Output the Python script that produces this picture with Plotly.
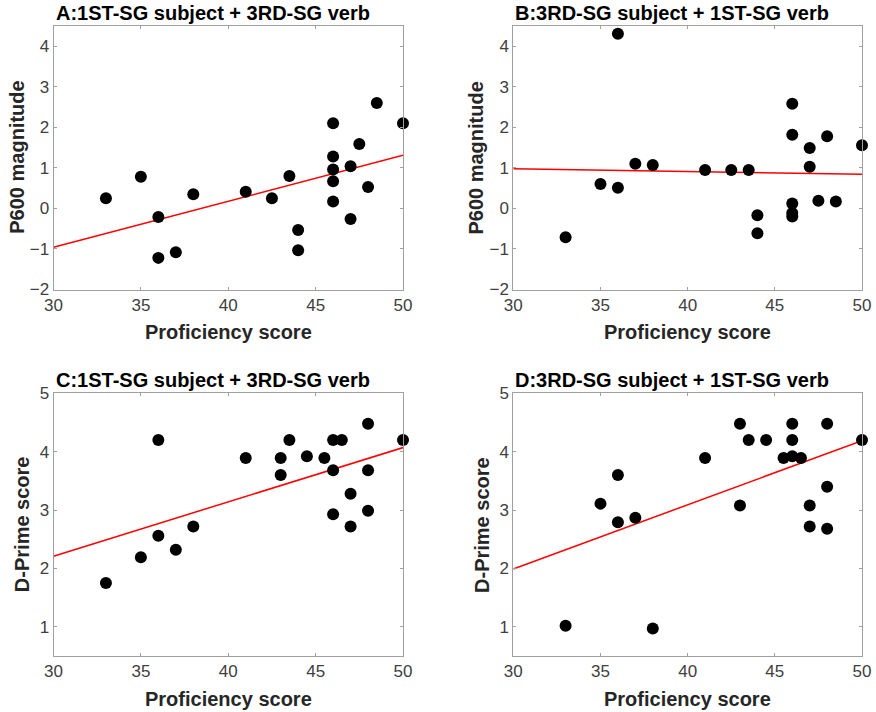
import plotly.graph_objects as go

# ---------------- data ----------------
titles = ["A:1ST-SG subject + 3RD-SG verb", "B:3RD-SG subject + 1ST-SG verb",
          "C:1ST-SG subject + 3RD-SG verb", "D:3RD-SG subject + 1ST-SG verb"]
y_titles = ["P600 magnitude", "P600 magnitude", "D-Prime score", "D-Prime score"]
x_title = "Proficiency score"

a_x = [33, 35, 36, 36, 37, 38, 41, 42.5, 43.5, 44, 44, 46, 46, 46, 46, 46, 47, 47, 47.5, 48, 48.5, 50]
a_y = [0.25, 0.78, -0.21, -1.22, -1.08, 0.35, 0.41, 0.25, 0.80, -0.53, -1.03, 2.10, 1.28, 0.96, 0.67, 0.17, 1.04, -0.26, 1.59, 0.53, 2.60, 2.10]

b_x = [33, 35, 36, 36, 37, 38, 41, 42.5, 43.5, 44, 44, 46, 46, 46, 46, 46, 47, 47, 47.5, 48, 48.5, 50]
b_y = [-0.71, 0.60, 4.31, 0.51, 1.10, 1.07, 0.95, 0.95, 0.95, -0.17, -0.61, 2.58, 1.82, 0.12, -0.11, -0.20, 1.49, 1.03, 0.19, 1.78, 0.17, 1.56]

c_x = [33, 35, 36, 36, 37, 38, 41, 43, 43, 43.5, 44.5, 45.5, 46, 46, 46, 46.5, 47, 47, 48, 48, 48, 50]
c_y = [1.75, 2.19, 4.20, 2.56, 2.32, 2.72, 3.89, 3.89, 3.60, 4.20, 3.92, 3.89, 4.20, 3.68, 2.93, 4.20, 3.28, 2.72, 4.48, 3.68, 2.99, 4.20]

d_x = [33, 35, 36, 36, 37, 38, 41, 43, 43, 43.5, 44.5, 45.5, 46, 46, 46, 46.5, 47, 47, 48, 48, 48, 50]
d_y = [1.02, 3.11, 3.60, 2.79, 2.87, 0.97, 3.89, 4.48, 3.08, 4.20, 4.20, 3.89, 4.48, 4.20, 3.92, 3.89, 3.08, 2.72, 4.48, 3.40, 2.68, 4.20]

fit_x = [30, 50]
fit_a = [-0.96, 1.31]
fit_b = [0.98, 0.84]
fit_c = [2.21, 4.07]
fit_d = [1.99, 4.19]

y_ranges = [[-2, 4.5], [-2, 4.5], [0.5, 5], [0.5, 5]]
y_tickvals = [[-2, -1, 0, 1, 2, 3, 4], [-2, -1, 0, 1, 2, 3, 4], [1, 2, 3, 4, 5], [1, 2, 3, 4, 5]]
x_tickvals = [30, 35, 40, 45, 50]

# ---------------- figure ----------------
W, H = 876, 712
panels = [(a_x, a_y, fit_a), (b_x, b_y, fit_b), (c_x, c_y, fit_c), (d_x, d_y, fit_d)]
# pixel boxes: left, right, top, bottom
boxes = [(53.5, 403, 26, 289.5), (513.3, 862, 26, 289.5),
         (53.5, 403, 393.3, 656), (513.3, 862, 393.3, 656)]
ytitle_gap = [36.5, 37.5, 32, 32]
xtitle_y = [332, 332, 699, 699]

FONT = "Liberation Sans, Arial, sans-serif"
fig = go.Figure()
layout = dict(width=W, height=H, margin=dict(l=0, r=0, t=0, b=0),
              paper_bgcolor="white", plot_bgcolor="white", showlegend=False,
              font=dict(family=FONT, color="#404040"))
annotations = []
for i, ((xs, ys, fy), (l, r, t, b)) in enumerate(zip(panels, boxes)):
    n = "" if i == 0 else str(i + 1)
    xa, ya = "x" + n, "y" + n
    fig.add_trace(go.Scatter(x=fit_x, y=fy, mode="lines", line=dict(color="#ff0000", width=1.5),
                             xaxis=xa, yaxis=ya, hoverinfo="skip"))
    fig.add_trace(go.Scatter(x=xs, y=ys, mode="markers",
                             marker=dict(color="black", size=12, line=dict(width=0)),
                             xaxis=xa, yaxis=ya, cliponaxis=False))
    common = dict(showline=True, linecolor="#a0a0a0", linewidth=1, mirror="ticks",
                  ticks="inside", ticklen=3, tickcolor="#a0a0a0", showgrid=False, zeroline=False,
                  automargin=False,
                  tickfont=dict(size=17, color="#404040", family=FONT))
    layout["xaxis" + n] = dict(common, domain=[l / W, r / W], anchor=ya, range=[30, 50],
                               tickvals=x_tickvals)
    layout["yaxis" + n] = dict(common, domain=[1 - b / H, 1 - t / H], anchor=xa, range=y_ranges[i],
                               tickvals=y_tickvals[i])
    annotations.append(dict(text="<b>%s</b>" % titles[i], x=l / W, y=1 - t / H, xref="paper", yref="paper",
                            xanchor="left", yanchor="bottom", showarrow=False,
                            font=dict(size=20, color="#000000", family=FONT)))
    annotations.append(dict(text="<b>%s</b>" % x_title, x=(l + r) / 2 / W, y=1 - xtitle_y[i] / H,
                            xref="paper", yref="paper", xanchor="center", yanchor="middle",
                            showarrow=False, font=dict(size=20, color="#262626", family=FONT)))
    annotations.append(dict(text="<b>%s</b>" % y_titles[i], x=(l - ytitle_gap[i]) / W,
                            y=1 - (t + b) / 2 / H, xref="paper", yref="paper", textangle=-90,
                            xanchor="center", yanchor="middle",
                            showarrow=False, font=dict(size=20, color="#262626", family=FONT)))
layout["annotations"] = annotations
fig.update_layout(**layout)
fig.write_html("out.html", config={"displayModeBar": False},
               post_script="document.body.style.margin='0px';")
